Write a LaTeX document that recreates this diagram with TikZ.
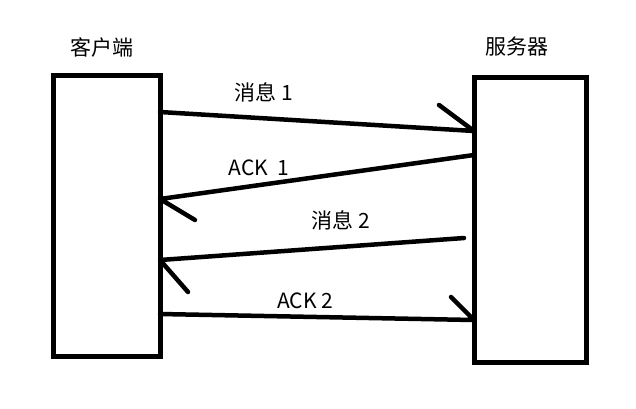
\documentclass[tikz,border=0pt]{standalone}
\usepackage{fontspec}
\setmainfont{Noto Sans CJK SC}
\usetikzlibrary{positioning}

\begin{document}
\begin{tikzpicture}[x=1pt, y=-1pt, node distance=314pt,
        host/.style={draw, line width=5pt, outer sep=0pt, inner sep=0pt},
        msg/.style={line width=4.5pt, line cap=round, line join=round},
        lbl/.style={font=\fontsize{21}{25}\selectfont, inner sep=0pt}]
        \useasboundingbox (0,0) rectangle (636,408);

        \node[host, minimum width=107pt, minimum height=281pt] (client) at (106.5,215.5) {};
        \node[host, minimum width=112pt, minimum height=285pt] (server) [right = of client, yshift=-4pt] {};

        \node[lbl] (clientname) at (102,47) {客户端};
        \node[lbl] (servername) at (517,47) {服务器};

        % from client to server
        \draw[msg] (client.east |- 0,112) -- (server.west |- 0,131) -- ++(-35,-26);
        \node[lbl] (msg1) at (264,92) {消息 1};

        % from server to client
        \draw[msg] (server.west |- 0,155) -- (client.east |- 0,199) -- ++(35,21);
        \node[lbl] (ack1) at (259,168) {ACK~~1};

        % from server to client
        \draw[msg] ([xshift=-10pt]server.west |- 0,238) -- (client.east |- 0,260) -- ++(28,32);
        \node[lbl] (msg2) at (341,220) {消息 2};

        % from client to server
        \draw[msg] (client.east |- 0,314) -- (server.west |- 0,320) -- ++(-23,-23);
        \node[lbl] (ack2) at (305,301) {ACK 2};
\end{tikzpicture}
\end{document}
